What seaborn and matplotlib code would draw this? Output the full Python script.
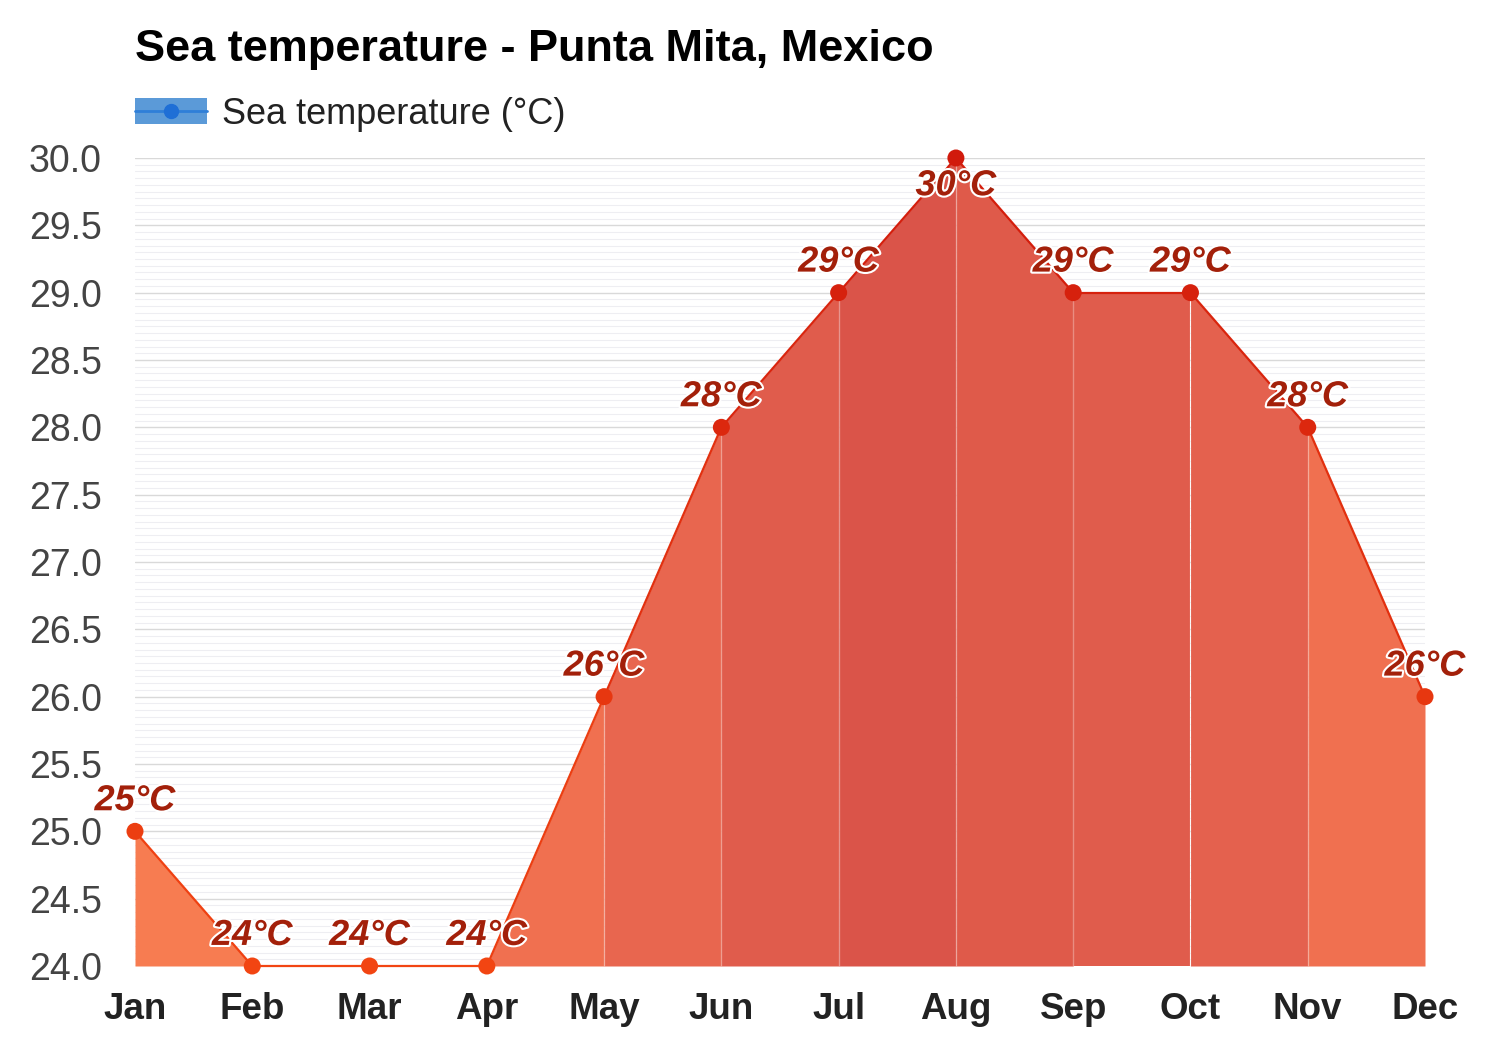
import matplotlib
matplotlib.use("Agg")
import matplotlib.pyplot as plt
import matplotlib.patheffects as pe
from matplotlib.patches import Patch
from matplotlib.lines import Line2D
from matplotlib.legend_handler import HandlerTuple
from matplotlib.colors import to_rgb, to_hex
import numpy as np
import pandas as pd
import seaborn as sns

# data
months = ["Jan", "Feb", "Mar", "Apr", "May", "Jun", "Jul", "Aug", "Sep", "Oct", "Nov", "Dec"]
sea_temp = [25, 24, 24, 24, 26, 28, 29, 30, 29, 29, 28, 26]
labels = [f"{t}°C" for t in sea_temp]

# fill colour of each month-to-month band (style)
band_colors = ["#f77c51", "#f47a50", "#f47a50", "#f07050", "#e8664f", "#e05c4c",
               "#da5449", "#df5a4a", "#e05c4c", "#e4614e", "#f07050"]

df = pd.DataFrame({"month": months, "x": range(len(months)), "temp": sea_temp})


def point_color(t):
    # orange-red for cool months, deeper red for warm ones
    lo, hi = np.array(to_rgb("#f24512")), np.array(to_rgb("#d11a0c"))
    f = (t - 24) / 6
    return to_hex(lo + (hi - lo) * f)


sns.set_theme(style="white")
plt.rcParams["font.family"] = ["Liberation Sans", "DejaVu Sans"]

fig, ax = plt.subplots(figsize=(15, 10.5), dpi=100)
fig.subplots_adjust(left=0.09, right=0.95, top=1 - 158 / 1050, bottom=1 - 966 / 1050)

ymin, ymax = 24, 30

# grid: major every 0.5, fine lines every 0.05
for yv in np.arange(ymin, ymax + 0.001, 0.05):
    major = abs(yv * 2 - round(yv * 2)) < 1e-6
    ax.axhline(yv, color="#d9d9d9" if major else "#eeeef2", lw=1.0 if major else 0.8, zorder=0)

# area bands
for i in range(len(months) - 1):
    ax.fill_between(df["x"].iloc[i:i + 2], df["temp"].iloc[i:i + 2], ymin,
                    color=band_colors[i], lw=0, zorder=1)
# faint vertical month lines inside the area
for i in range(1, len(months) - 1):
    ax.plot([i, i], [ymin, sea_temp[i]], color="white", alpha=0.3, lw=1, zorder=2)

# line segments
for i in range(len(months) - 1):
    c = point_color((sea_temp[i] + sea_temp[i + 1]) / 2)
    sns.lineplot(x=df["x"].iloc[i:i + 2], y=df["temp"].iloc[i:i + 2], ax=ax,
                 color=c, lw=1.6, zorder=3, clip_on=False)

pal = {t: point_color(t) for t in sorted(set(sea_temp))}
sns.scatterplot(data=df, x="x", y="temp", hue="temp", palette=pal, s=150,
                edgecolor="none", legend=False, ax=ax, zorder=4, clip_on=False)

# data labels
for i, (t, lab) in enumerate(zip(sea_temp, labels)):
    dy = -20 if t >= ymax else 22
    ax.annotate(lab, (i, t), xytext=(0, dy), textcoords="offset points",
                ha="center", va="center", fontsize=26, fontweight="bold",
                fontstyle="italic", color="#a3200a", zorder=6,
                path_effects=[pe.withStroke(linewidth=3, foreground="white")])

ax.set_xlim(0, len(months) - 1)
ax.set_ylim(ymin, ymax)
ax.set_xticks(range(len(months)))
ax.set_xticklabels(months, fontsize=26.5, fontweight="bold", color="#222222")
ax.set_yticks(np.arange(ymin, ymax + 0.001, 0.5))
ax.set_yticklabels([f"{v:.1f}" for v in np.arange(ymin, ymax + 0.001, 0.5)],
                   fontsize=27, color="#444444")
ax.tick_params(axis="x", pad=19, length=0)
ax.tick_params(axis="y", pad=24, length=0)
ax.set_xlabel("")
ax.set_ylabel("")
sns.despine(ax=ax, left=True, bottom=True)

fig.text(135 / 1500, 1 - 50 / 1050, "Sea temperature - Punta Mita, Mexico",
         fontsize=32.5, fontweight="bold", color="black", va="center", ha="left")

h_patch = Patch(facecolor="#5b9ad8", edgecolor="none")
h_top = Line2D([], [], color="#2f7fd8", lw=2)
h_dot = Line2D([], [], lw=0, marker="o", markersize=10,
               markerfacecolor="#1f6fd6", markeredgecolor="#1f6fd6")
fig.legend(handles=[(h_patch, h_top, h_dot)], labels=["Sea temperature (°C)"],
           handler_map={tuple: HandlerTuple(ndivide=1)},
           loc="center left", bbox_to_anchor=(135 / 1500, 1 - 114 / 1050),
           frameon=False, fontsize=26, handlelength=2.0, handleheight=0.7,
           handletextpad=0.42, borderpad=0, borderaxespad=0,
           labelcolor="#222222")

fig.savefig("out.png", dpi=100, facecolor="white")
